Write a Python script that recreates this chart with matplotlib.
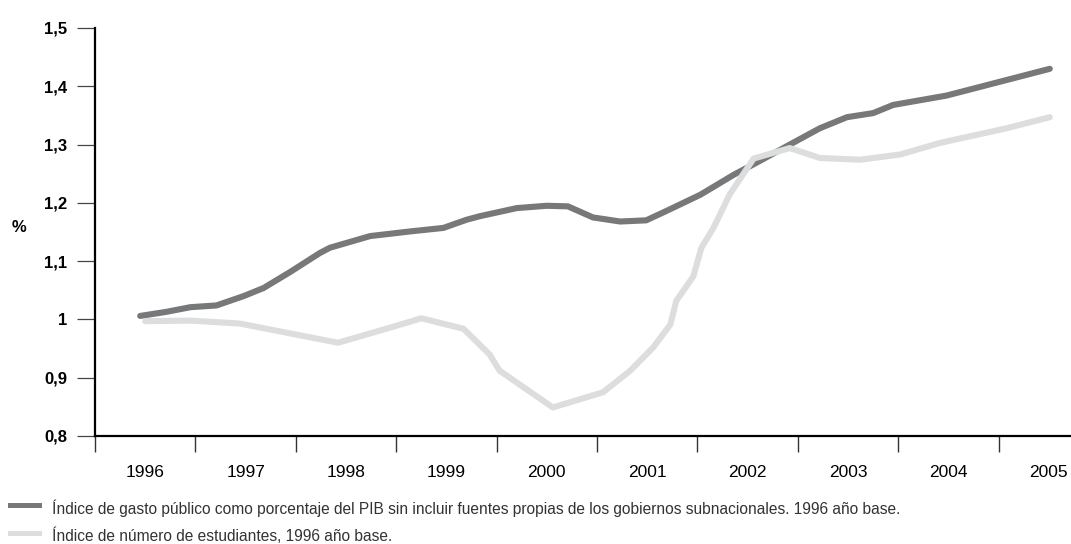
import matplotlib

matplotlib.use("Agg")
import matplotlib.pyplot as plt
from matplotlib.lines import Line2D

# Índice de gasto público (% PIB), 1996 año base
gasto_x = [1995.95, 1996.21, 1996.45, 1996.71, 1996.98, 1997.18, 1997.44, 1997.74,
           1997.84, 1998.24, 1998.64, 1998.97, 1999.20, 1999.33, 1999.70, 2000.00,
           2000.21, 2000.46, 2000.73, 2000.99, 2001.19, 2001.53, 2001.86, 2002.09,
           2002.42, 2002.72, 2002.99, 2003.25, 2003.45, 2003.98, 2005.01]
gasto_y = [1.006, 1.013, 1.021, 1.024, 1.040, 1.054, 1.081, 1.114,
           1.123, 1.143, 1.151, 1.157, 1.171, 1.177, 1.191, 1.195,
           1.194, 1.175, 1.168, 1.170, 1.186, 1.214, 1.248, 1.269,
           1.300, 1.328, 1.347, 1.354, 1.368, 1.384, 1.430]

# Índice de número de estudiantes, 1996 año base
estud_x = [1996.00, 1996.45, 1996.94, 1997.92, 1998.50, 1998.75, 1999.17, 1999.43,
           1999.53, 2000.06, 2000.56, 2000.83, 2001.06, 2001.23, 2001.29, 2001.46,
           2001.54, 2001.66, 2001.82, 2002.06, 2002.42, 2002.72, 2003.12, 2003.52,
           2003.92, 2004.58, 2005.01]
estud_y = [0.997, 0.998, 0.993, 0.960, 0.989, 1.002, 0.984, 0.940,
           0.912, 0.849, 0.875, 0.912, 0.952, 0.991, 1.032, 1.074,
           1.123, 1.157, 1.214, 1.276, 1.294, 1.277, 1.274, 1.283,
           1.303, 1.328, 1.347]

years = [1996, 1997, 1998, 1999, 2000, 2001, 2002, 2003, 2004, 2005]
y_ticks = [0.8, 0.9, 1.0, 1.1, 1.2, 1.3, 1.4, 1.5]
y_labels = ["0,8", "0,9", "1", "1,1", "1,2", "1,3", "1,4", "1,5"]

label_gasto = ("Índice de gasto público como porcentaje del PIB sin incluir fuentes "
               "propias de los gobiernos subnacionales. 1996 año base.")
label_estud = "Índice de número de estudiantes, 1996 año base."

DARK = "#77787a"
LIGHT = "#dcddde"
SANS = ["Liberation Sans", "DejaVu Sans"]

W, H = 1071, 544
fig = plt.figure(figsize=(W / 100, H / 100), dpi=100)
ax = fig.add_axes([95 / W, 1 - 436 / H, (1070 - 95) / W, (436 - 28) / H])

ax.plot(gasto_x, gasto_y, color=DARK, lw=4.4, solid_capstyle="round",
        solid_joinstyle="round", zorder=2)
ax.plot(estud_x, estud_y, color=LIGHT, lw=4.4, solid_capstyle="round",
        solid_joinstyle="round", zorder=3)

ax.set_xlim(1995.5, 1995.5 + (1070 - 95) / 100.4)
ax.set_ylim(0.8, 1.5)

for s in ["top", "right"]:
    ax.spines[s].set_visible(False)
for s in ["left", "bottom"]:
    ax.spines[s].set_linewidth(1.6)
    ax.spines[s].set_color("black")

ax.set_yticks(y_ticks)
ax.set_yticklabels(y_labels, fontsize=12, fontweight="bold", family=SANS)
ax.tick_params(axis="y", direction="out", length=13, width=0.9, color="#444444", pad=7)

# year boundaries as major ticks, year labels on minor ticks
ax.set_xticks([y - 0.5 for y in years])
ax.set_xticklabels([])
ax.set_xticks(years, minor=True)
ax.set_xticklabels([str(y) for y in years], minor=True, fontsize=12.5, family=SANS)
ax.tick_params(axis="x", which="major", direction="out", length=11.5, width=1, color="#333333")
ax.tick_params(axis="x", which="minor", length=0, pad=21)

fig.text(19 / W, 1 - 227 / H, "%", fontsize=12, fontweight="bold",
         family=SANS, ha="center", va="center")

# legend drawn by hand below the axes
for ypx, col, txt in [(505, DARK, label_gasto), (533, LIGHT, label_estud)]:
    yf = 1 - ypx / H
    fig.add_artist(Line2D([10 / W, 39 / W], [yf, yf], color=col, lw=3.6,
                          transform=fig.transFigure))
    fig.text(52 / W, 1 - (ypx + 3) / H, txt, fontsize=11.2, family=SANS,
             color="#333333", ha="left", va="center")

fig.savefig("out.png", dpi=100)
